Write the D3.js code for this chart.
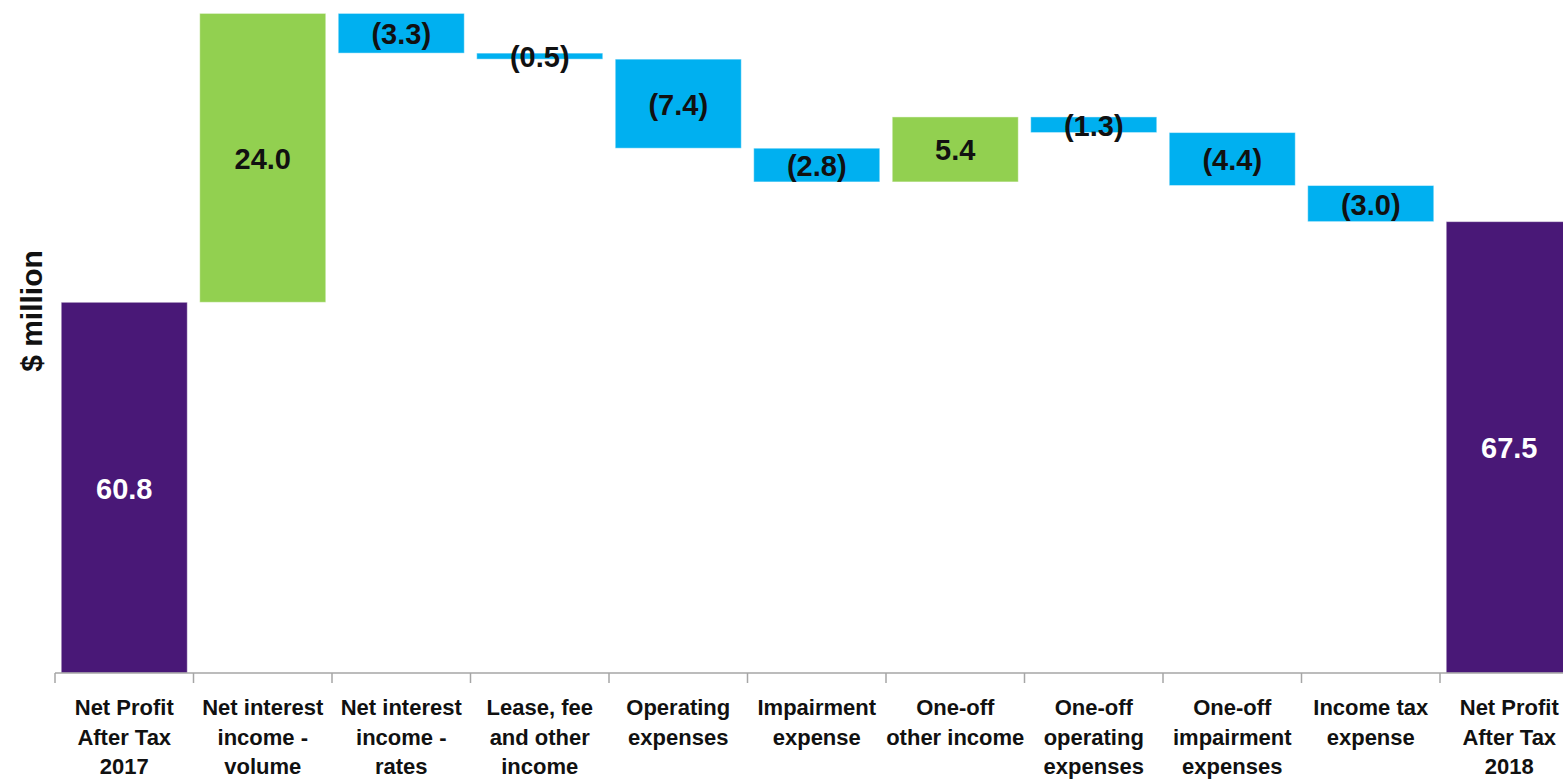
<!DOCTYPE html>
<html>
<head>
<meta charset="utf-8">
<script src="https://cdn.jsdelivr.net/npm/d3@7"></script>
<style>
  html, body { margin: 0; padding: 0; background: #ffffff; }
  svg { display: block; }
  text { font-family: "Liberation Sans", Arial, sans-serif; font-weight: bold; }
</style>
</head>
<body>
<svg id="chart" width="1563" height="779"></svg>
<script>
// Bridge of net profit after tax, 2017 to 2018 ($ million)
const categories = [
  "Net Profit After Tax 2017",
  "Net interest income - volume",
  "Net interest income - rates",
  "Lease, fee and other income",
  "Operating expenses",
  "Impairment expense",
  "One-off other income",
  "One-off operating expenses",
  "One-off impairment expenses",
  "Income tax expense",
  "Net Profit After Tax 2018"
];
// Wrapped lines for the category labels
const categoryLines = [
  ["Net Profit", "After Tax", "2017"],
  ["Net interest", "income -", "volume"],
  ["Net interest", "income -", "rates"],
  ["Lease, fee", "and other", "income"],
  ["Operating", "expenses"],
  ["Impairment", "expense"],
  ["One-off", "other income"],
  ["One-off", "operating", "expenses"],
  ["One-off", "impairment", "expenses"],
  ["Income tax", "expense"],
  ["Net Profit", "After Tax", "2018"]
];
// Totals are absolute values; the others are movements
const values = [60.8, 24.0, -3.3, -0.5, -7.4, -2.8, 5.4, -1.3, -4.4, -3.0, 67.5];
const kinds = ["total", "change", "change", "change", "change", "change", "change", "change", "change", "change", "total"];
const valueLabels = ["60.8", "24.0", "(3.3)", "(0.5)", "(7.4)", "(2.8)", "5.4", "(1.3)", "(4.4)", "(3.0)", "67.5"];
const yDomain = [30, 85];

const colors = { total: "#491877", up: "#92d050", down: "#00b0f0" };

// Build start/end of each floating bar
let running = 0;
const bars = categories.map((c, i) => {
  let start, end, type;
  if (kinds[i] === "total") {
    start = yDomain[0]; end = values[i]; running = values[i]; type = "total";
  } else {
    start = running; end = running + values[i]; running = end;
    type = values[i] >= 0 ? "up" : "down";
  }
  return { cat: c, lines: categoryLines[i], start, end, type, label: valueLabels[i] };
});

const svg = d3.select("#chart");
const axisY = 673;
const x = d3.scaleBand()
  .domain(categories)
  .range([55, 55 + 138.5 * categories.length])
  .paddingInner(0.09)
  .paddingOuter(0.045);
const y = d3.scaleLinear().domain(yDomain).range([axisY, 11]);

// Bars
svg.append("g").selectAll("rect")
  .data(bars)
  .join("rect")
  .attr("x", d => x(d.cat))
  .attr("width", x.bandwidth())
  .attr("y", d => y(Math.max(d.start, d.end)))
  .attr("height", d => Math.abs(y(d.start) - y(d.end)))
  .attr("fill", d => colors[d.type])
  .attr("stroke", "#ffffff")
  .attr("stroke-opacity", 0.45)
  .attr("stroke-width", 1);

// Value labels centred in each bar
svg.append("g").selectAll("text")
  .data(bars)
  .join("text")
  .attr("x", d => x(d.cat) + x.bandwidth() / 2)
  .attr("y", d => (y(d.start) + y(d.end)) / 2 + 1)
  .attr("text-anchor", "middle")
  .attr("dominant-baseline", "central")
  .attr("font-size", 29)
  .attr("fill", d => d.type === "total" ? "#ffffff" : "#111111")
  .text(d => d.label);

// Category axis: baseline with ticks at category boundaries
const step = x.step();
const x0 = x.range()[0];
const axis = svg.append("g").attr("stroke", "#a6a6a6").attr("stroke-width", 1.5);
axis.append("line")
  .attr("x1", x0).attr("x2", x.range()[1])
  .attr("y1", axisY).attr("y2", axisY);
axis.selectAll("line.tick")
  .data(d3.range(categories.length + 1))
  .join("line")
  .attr("class", "tick")
  .attr("x1", k => x0 + k * step).attr("x2", k => x0 + k * step)
  .attr("y1", axisY).attr("y2", axisY + 10);

// Category labels
const labels = svg.append("g").selectAll("text")
  .data(bars)
  .join("text")
  .attr("text-anchor", "middle")
  .attr("font-size", 22)
  .attr("fill", "#111111");
labels.selectAll("tspan")
  .data(d => d.lines.map(line => ({ line, cx: x(d.cat) + x.bandwidth() / 2 })))
  .join("tspan")
  .attr("x", t => t.cx)
  .attr("y", (t, i) => 715 + i * 29.5)
  .text(t => t.line);

// Y axis title
svg.append("text")
  .attr("transform", "translate(42,311) rotate(-90)")
  .attr("text-anchor", "middle")
  .attr("font-size", 30)
  .attr("fill", "#111111")
  .text("$ million");
</script>
</body>
</html>
